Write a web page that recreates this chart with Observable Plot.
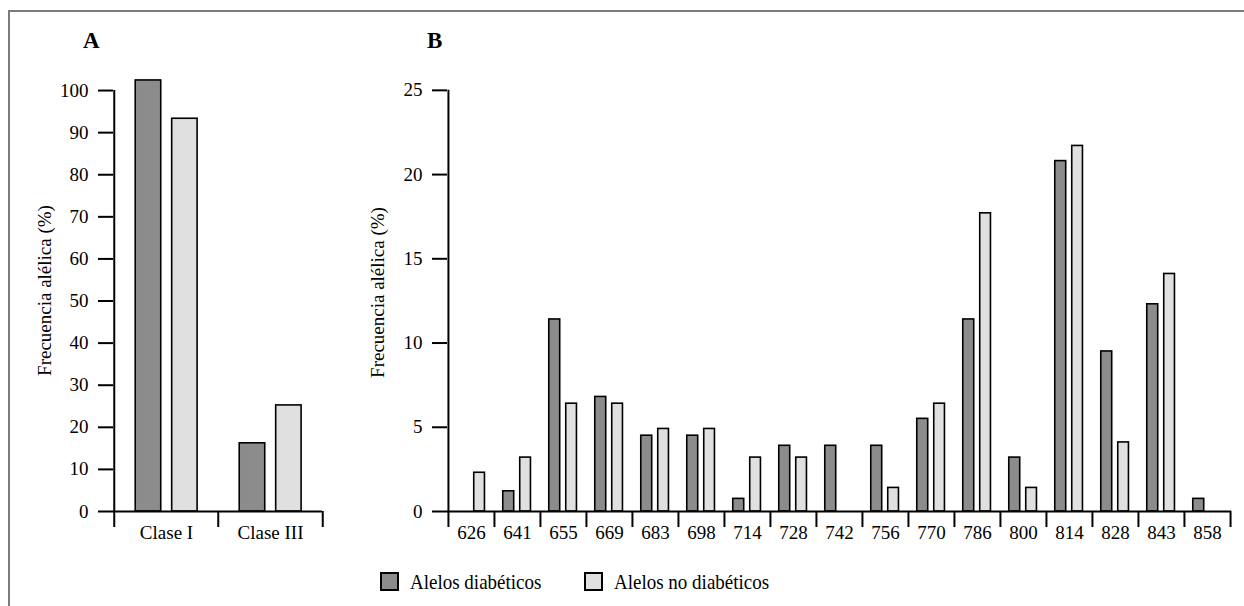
<!DOCTYPE html>
<html>
<head>
<meta charset="utf-8">
<script src="https://cdn.jsdelivr.net/npm/d3@7"></script>
<script src="https://cdn.jsdelivr.net/npm/@observablehq/plot@0.6"></script>
<style>
  html, body { margin: 0; padding: 0; background: #fff; }
  body { width: 1244px; height: 606px; position: relative; overflow: hidden; font-family: "Liberation Serif", "Times New Roman", serif; color: #000; }
  #frame { position: absolute; left: 8px; top: 10px; width: 1300px; height: 700px; border-top: 2px solid #7c7c7c; border-left: 2px solid #7c7c7c; }
  .panel { position: absolute; top: 0; }
  #panelA { left: 0; }
  #panelB { left: 340px; }
  .tag { position: absolute; font-weight: bold; font-size: 23px; line-height: 1; }
  .legend { position: absolute; top: 572px; display: flex; align-items: center; font-size: 19px; line-height: 1; }
  .legend span { display: inline-block; transform: scaleY(1.15); }
  .sw { width: 19px; height: 19px; box-sizing: border-box; border: 2px solid #000; margin-right: 11px; }
</style>
</head>
<body>
<div id="frame"></div>
<div class="tag" style="left:83px; top:29px;">A</div>
<div class="tag" style="left:427px; top:29px;">B</div>
<div id="panelA" class="panel"></div>
<div id="panelB" class="panel"></div>
<div class="legend" style="left:380px;"><div class="sw" style="background:#8c8c8c"></div><span>Alelos diabéticos</span></div>
<div class="legend" style="left:584px;"><div class="sw" style="background:#e0e0e0"></div><span>Alelos no diabéticos</span></div>
<script>
// ---- Data ----
const classes = ["Clase I", "Clase III"];
const classDiabetic = [102.4, 16.2];
const classNonDiabetic = [93.3, 25.2];

const alleles = ["626", "641", "655", "669", "683", "698", "714", "728", "742", "756", "770", "786", "800", "814", "828", "843", "858"];
const alleleDiabetic =    [0,   1.2, 11.4, 6.8, 4.5, 4.5, 0.75, 3.9, 3.9, 3.9, 5.5, 11.4, 3.2, 20.8, 9.5, 12.3, 0.75];
const alleleNonDiabetic = [2.3, 3.2, 6.4,  6.4, 4.9, 4.9, 3.2,  3.2, 0,   1.4, 6.4, 17.7, 1.4, 21.7, 4.1, 14.1, 0];

const yTicksA = [0, 10, 20, 30, 40, 50, 60, 70, 80, 90, 100];
const yTicksB = [0, 5, 10, 15, 20, 25];

const yLabel = "Frecuencia alélica (%)";
const darkFill = "#8c8c8c";
const lightFill = "#e0e0e0";

const tableA = classes.map((c, i) => ({cat: c, diab: classDiabetic[i], nodiab: classNonDiabetic[i]}));
const tableB = alleles.map((c, i) => ({cat: c, diab: alleleDiabetic[i], nodiab: alleleNonDiabetic[i]}));

function panel({data, cats, width, height, marginLeft, marginRight, marginTop, marginBottom, yMax, yTicks, insets, labelOffset}) {
  const bw = (width - marginLeft - marginRight) / cats.length;
  const barStyle = {stroke: "#000", strokeWidth: 1.6};
  return Plot.plot({
    width, height, marginLeft, marginRight, marginTop, marginBottom,
    style: {fontFamily: "Liberation Serif, Times New Roman, serif", fontSize: "19px", color: "#000", background: "transparent", overflow: "visible"},
    x: {type: "band", domain: cats, padding: 0, axis: null},
    y: {domain: [0, yMax], axis: null},
    marks: [
      Plot.barY(data.filter(d => d.diab > 0), {x: "cat", y: "diab", fill: darkFill, ...barStyle, insetLeft: insets[0] * bw, insetRight: insets[1] * bw}),
      Plot.barY(data.filter(d => d.nodiab > 0), {x: "cat", y: "nodiab", fill: lightFill, ...barStyle, insetLeft: insets[2] * bw, insetRight: insets[3] * bw}),
      Plot.ruleY([0], {strokeWidth: 2}),
      Plot.ruleX([cats[0]], {x: d => d, y1: 0, y2: yTicks[yTicks.length - 1], dx: -bw / 2, strokeWidth: 2}),
      Plot.axisY({ticks: yTicks, tickSize: 15, tickPadding: 10, fontSize: 19, strokeWidth: 2, label: yLabel, labelAnchor: "center", labelOffset, labelArrow: "none"}),
      Plot.axisX({tickSize: 16, tickFormat: () => "", dx: -bw / 2, strokeWidth: 2, label: null}),
      Plot.axisX({ticks: [cats[cats.length - 1]], tickSize: 16, tickFormat: () => "", dx: bw / 2, strokeWidth: 2, label: null}),
      Plot.axisX({tickSize: 0, tickPadding: 14, fontSize: 19, label: null})
    ]
  });
}

document.getElementById("panelA").append(panel({
  data: tableA, cats: classes, width: 340, height: 560,
  marginLeft: 113, marginRight: 18, marginTop: 69, marginBottom: 49,
  yMax: 105, yTicks: yTicksA,
  insets: [0.203, 0.548, 0.552, 0.200], labelOffset: 76
}));

document.getElementById("panelB").append(panel({
  data: tableB, cats: alleles, width: 904, height: 560,
  marginLeft: 107, marginRight: 13, marginTop: 73, marginBottom: 49,
  yMax: 26, yTicks: yTicksB,
  insets: [0.19, 0.57, 0.558, 0.207], labelOffset: 77
}));
</script>
</body>
</html>
